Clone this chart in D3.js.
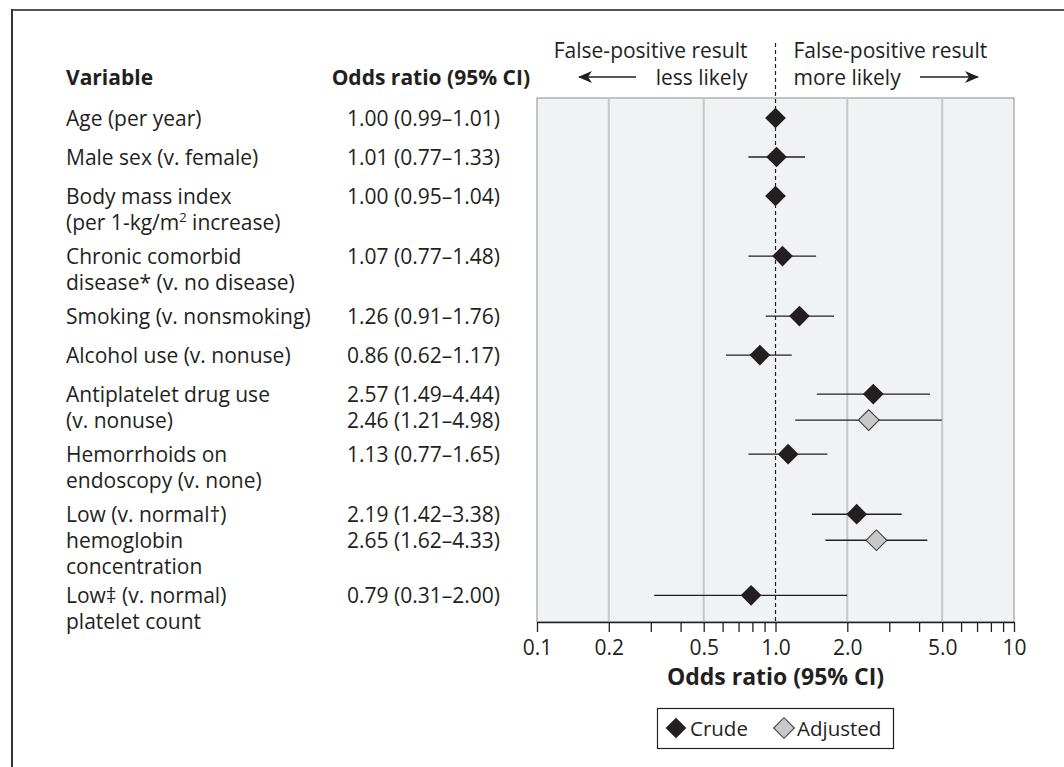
<!DOCTYPE html>
<html><head><meta charset="utf-8">
<script src="https://cdn.jsdelivr.net/npm/d3@7"></script>
<style>
html,body{margin:0;padding:0;background:#fff;}
svg{display:block;font-family:"Open Sans","Noto Sans",sans-serif;}
</style></head>
<body><svg id="c" width="1064" height="767"></svg>
<script>
// ---- data ----
const variableLabels = [
  ["Age (per year)"],
  ["Male sex (v. female)"],
  ["Body mass index", "(per 1-kg/m² increase)"],
  ["Chronic comorbid", "disease* (v. no disease)"],
  ["Smoking (v. nonsmoking)"],
  ["Alcohol use (v. nonuse)"],
  ["Antiplatelet drug use", "(v. nonuse)"],
  ["Hemorrhoids on", "endoscopy (v. none)"],
  ["Low (v. normal†)", "hemoglobin", "concentration"],
  ["Low‡ (v. normal)", "platelet count"]
];
const crudeOR = [1.00, 1.01, 1.00, 1.07, 1.26, 0.86, 2.57, 1.13, 2.19, 0.79];
const crudeLo = [0.99, 0.77, 0.95, 0.77, 0.91, 0.62, 1.49, 0.77, 1.42, 0.31];
const crudeHi = [1.01, 1.33, 1.04, 1.48, 1.76, 1.17, 4.44, 1.65, 3.38, 2.00];
const adjustedOR = [null, null, null, null, null, null, 2.46, null, 2.65, null];
const adjustedLo = [null, null, null, null, null, null, 1.21, null, 1.62, null];
const adjustedHi = [null, null, null, null, null, null, 4.98, null, 4.33, null];
const tickValuesAll = [0.1,0.2,0.3,0.4,0.5,0.6,0.7,0.8,0.9,1,2,3,4,5,6,7,8,9,10];
const tickLabelValues = [0.1, 0.2, 0.5, 1, 2, 5, 10];
const tickLabelTexts = ["0.1", "0.2", "0.5", "1.0", "2.0", "5.0", "10"];
const gridValues = [0.2, 0.5, 2, 5];

// ---- layout ----
const svg = d3.select("#c");
const ink = "#231f20";
const FS = 21;
const plotL = 537, plotR = 1014, plotT = 98, plotB = 622;
const x = d3.scaleLog().domain([0.1, 10]).range([plotL, plotR]);

// row slot units: row advance = 1 + 0.54*(lines-1) units
const rowStart = [];
let acc = 0;
variableLabels.forEach((l, i) => { rowStart.push(acc); acc += 1 + (l.length - 1) * 0.54; });
const yUnit = d3.scaleLinear().domain([0, 1]).range([118, 157]);
const lineH = 26;
const baseOff = 8;
const fmt = v => v.toFixed(2);
const orText = (o, lo, hi) => `${fmt(o)} (${fmt(lo)}–${fmt(hi)})`;

// frame (top and left rules)
svg.append("line").attr("x1", 11).attr("x2", 1064).attr("y1", 10).attr("y2", 10)
  .attr("stroke", "#555").attr("stroke-width", 2);
svg.append("line").attr("x1", 12).attr("x2", 12).attr("y1", 9).attr("y2", 767)
  .attr("stroke", "#333").attr("stroke-width", 2);

// plot background
svg.append("rect").attr("x", plotL).attr("y", plotT).attr("width", plotR - plotL).attr("height", plotB - plotT)
  .attr("fill", "#f1f2f4").attr("stroke", "#8c8c8c").attr("stroke-width", 1);

svg.append("g").selectAll("line").data(gridValues).join("line")
  .attr("x1", d => x(d)).attr("x2", d => x(d)).attr("y1", plotT).attr("y2", plotB)
  .attr("stroke", "#c6c7c9").attr("stroke-width", 2);

// dashed reference line
svg.append("line").attr("x1", x(1)).attr("x2", x(1)).attr("y1", 43).attr("y2", plotB)
  .attr("stroke", ink).attr("stroke-width", 1.2).attr("stroke-dasharray", "4,3");

// axis
const axis = d3.axisBottom(x).tickValues(tickValuesAll).tickSize(10).tickSizeOuter(0)
  .tickFormat(d => { const i = tickLabelValues.findIndex(v => Math.abs(v - d) < 1e-9); return i >= 0 ? tickLabelTexts[i] : ""; });
const gAx = svg.append("g").attr("transform", `translate(0,${plotB})`).call(axis);
gAx.select(".domain").attr("stroke", ink).attr("stroke-width", 1.5);
gAx.selectAll(".tick line").attr("stroke", ink).attr("stroke-width", 1.3);
gAx.selectAll(".tick text").attr("fill", ink).attr("font-size", FS).attr("font-family", "Open Sans").attr("dy", "0.95em");

svg.append("text").attr("x", x(1)).attr("y", 685).attr("text-anchor", "middle")
  .attr("font-size", 23).attr("font-weight", "bold").attr("fill", ink).text("Odds ratio (95% CI)");

// header texts
svg.append("text").attr("x", 66).attr("y", 85).attr("font-size", FS).attr("font-weight", "bold").attr("fill", ink).text("Variable");
svg.append("text").attr("x", 530).attr("y", 85).attr("text-anchor", "end").attr("font-size", FS).attr("font-weight", "bold").attr("fill", ink).text("Odds ratio (95% CI)");

const hdr = svg.append("g").attr("font-size", FS).attr("fill", ink);
hdr.append("text").attr("x", x(1) - 28).attr("y", 58).attr("text-anchor", "end").text("False-positive result");
hdr.append("text").attr("x", x(1) - 28).attr("y", 85).attr("text-anchor", "end").text("less likely");
hdr.append("text").attr("x", x(1) + 18).attr("y", 58).text("False-positive result");
hdr.append("text").attr("x", x(1) + 18).attr("y", 85).text("more likely");

// arrows
const defs = svg.append("defs");
defs.append("marker").attr("id", "ah").attr("viewBox", "0 0 14 12").attr("refX", 13).attr("refY", 6)
  .attr("markerWidth", 14).attr("markerHeight", 12).attr("markerUnits", "userSpaceOnUse").attr("orient", "auto")
  .append("path").attr("d", "M0,0 L14,6 L0,12 L4,6 Z").attr("fill", ink);
svg.append("line").attr("x1", 636).attr("x2", 579).attr("y1", 77).attr("y2", 77)
  .attr("stroke", ink).attr("stroke-width", 1.4).attr("marker-end", "url(#ah)");
svg.append("line").attr("x1", 920).attr("x2", 978).attr("y1", 77).attr("y2", 77)
  .attr("stroke", ink).attr("stroke-width", 1.4).attr("marker-end", "url(#ah)");

// rows
const diamond = d3.symbol(d3.symbolSquare, 215);
variableLabels.forEach((lines, i) => {
  const y0 = yUnit(rowStart[i]);
  const g = svg.append("g");
  lines.forEach((t, k) => {
    const txt = g.append("text").attr("x", 66).attr("y", y0 + k * lineH + baseOff).attr("font-size", FS).attr("fill", ink);
    if (t.includes("m²")) {
      const parts = t.split("m²");
      txt.append("tspan").text(parts[0] + "m");
      txt.append("tspan").attr("font-size", 13).attr("dy", -8).text("2");
      txt.append("tspan").attr("dy", 8).text(parts[1]);
    } else txt.text(t);
  });
  g.append("text").attr("x", 347).attr("y", y0 + baseOff).attr("font-size", FS).attr("fill", ink)
    .text(orText(crudeOR[i], crudeLo[i], crudeHi[i]));
  g.append("line").attr("x1", x(crudeLo[i])).attr("x2", x(crudeHi[i])).attr("y1", y0).attr("y2", y0)
    .attr("stroke", ink).attr("stroke-width", 1.3);
  g.append("path").attr("d", diamond).attr("transform", `translate(${x(crudeOR[i])},${y0}) rotate(45)`).attr("fill", ink);
  if (adjustedOR[i] != null) {
    const y1 = y0 + lineH;
    g.append("text").attr("x", 347).attr("y", y1 + baseOff).attr("font-size", FS).attr("fill", ink)
      .text(orText(adjustedOR[i], adjustedLo[i], adjustedHi[i]));
    g.append("line").attr("x1", x(adjustedLo[i])).attr("x2", x(adjustedHi[i])).attr("y1", y1).attr("y2", y1)
      .attr("stroke", ink).attr("stroke-width", 1.3);
    g.append("path").attr("d", diamond).attr("transform", `translate(${x(adjustedOR[i])},${y1}) rotate(45)`)
      .attr("fill", "#c8c8c8").attr("stroke", "#333").attr("stroke-width", 1);
  }
});

// legend
const lg = svg.append("g");
lg.append("rect").attr("x", 657.5).attr("y", 708.5).attr("width", 236).attr("height", 40)
  .attr("fill", "#fff").attr("stroke", ink).attr("stroke-width", 1.2);
lg.append("path").attr("d", diamond).attr("transform", "translate(676,728) rotate(45)").attr("fill", ink);
lg.append("text").attr("x", 690).attr("y", 736).attr("font-size", 20.5).attr("fill", ink).text("Crude");
lg.append("path").attr("d", diamond).attr("transform", "translate(784,728) rotate(45)")
  .attr("fill", "#c8c8c8").attr("stroke", "#333").attr("stroke-width", 1);
lg.append("text").attr("x", 797).attr("y", 736).attr("font-size", 20.5).attr("fill", ink).text("Adjusted");
</script></body></html>
